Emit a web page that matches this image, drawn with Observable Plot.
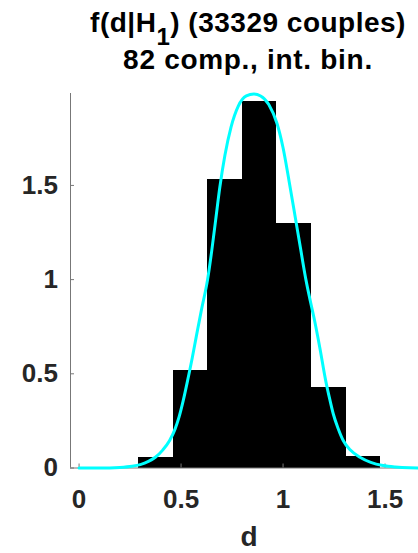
<!DOCTYPE html>
<html><head><meta charset="utf-8">
<script src="https://cdn.jsdelivr.net/npm/d3@7"></script>
<script src="https://cdn.jsdelivr.net/npm/@observablehq/plot@0.6"></script>
<style>
html,body{margin:0;padding:0;background:#fff;overflow:hidden;}
#wrap{position:relative;width:418px;height:553px;overflow:hidden;font-family:"Liberation Sans",Arial,Helvetica,sans-serif;}
#wrap svg{position:absolute;left:0;top:0;}
.t{position:absolute;left:0;width:496px;text-align:center;font-weight:bold;font-size:28px;line-height:20px;letter-spacing:0.5px;color:#000;white-space:nowrap;}
.sub{display:inline-block;font-size:24px;line-height:12px;vertical-align:-13px;}
</style></head><body>
<div id="wrap">
<div id="chart"></div>
<div class="t" style="top:13.3px">f(d|H<span class="sub">1</span>) (33329 couples)</div>
<div class="t" style="top:50.3px;letter-spacing:0.7px">82 comp., int. bin.</div>
<div class="t" style="top:527px;width:498px;color:#262626;letter-spacing:0">d</div>
</div>
<script>
const xDomain = [-0.042, 1.664];
const yDomain = [0, 1.988];
const xTicks = [0, 0.5, 1, 1.5];
const yTicks = [0, 0.5, 1, 1.5];
const binEdges = [0.292, 0.4615, 0.631, 0.8005, 0.970, 1.1395, 1.309, 1.4785];
const binHeights = [0.054, 0.515, 1.534, 1.945, 1.297, 0.429, 0.059];
const curveD = [0.00, 0.10, 0.20, 0.26, 0.30, 0.34, 0.374, 0.41, 0.444, 0.47, 0.49, 0.51, 0.532, 0.555, 0.575, 0.60, 0.63, 0.65, 0.67, 0.69, 0.715, 0.745, 0.78, 0.82, 0.857, 0.89, 0.93, 0.97, 1.00, 1.03, 1.06, 1.085, 1.112, 1.135, 1.155, 1.18, 1.209, 1.23, 1.246, 1.27, 1.295, 1.33, 1.377, 1.43, 1.49, 1.55, 1.62, 1.70];
const curveF = [0.000, 0.000, 0.003, 0.009, 0.018, 0.035, 0.057, 0.095, 0.146, 0.205, 0.27, 0.355, 0.464, 0.585, 0.70, 0.84, 1.00, 1.15, 1.32, 1.49, 1.66, 1.81, 1.92, 1.975, 1.985, 1.975, 1.93, 1.83, 1.70, 1.52, 1.33, 1.17, 1.00, 0.88, 0.78, 0.64, 0.464, 0.36, 0.288, 0.21, 0.146, 0.095, 0.057, 0.03, 0.013, 0.005, 0.001, 0.000];

const bars = binHeights.map((h, i) => ({x1: binEdges[i], x2: binEdges[i + 1], y: h}));
const curvePts = curveD.map((d, i) => ({d, f: curveF[i]}));

const chart = Plot.plot({
  width: 418, height: 553,
  marginLeft: 70, marginRight: 0, marginTop: 93, marginBottom: 85.5,
  x: {domain: xDomain},
  y: {domain: yDomain},
  style: {fontFamily: '"Liberation Sans", Arial, Helvetica, sans-serif', fontSize: "26px", fontWeight: "bold", background: "transparent", overflow: "visible"},
  marks: [
    Plot.rectY(bars, {x1: "x1", x2: "x2", y: "y", fill: "black", shapeRendering: "crispEdges"}),
    Plot.ruleY([yDomain[0]], {stroke: "#777", strokeWidth: 1}),
    Plot.ruleX([xDomain[0]], {stroke: "#777", strokeWidth: 1}),
    Plot.axisX(xTicks, {tickSize: -4, tickPadding: 25.5, stroke: "#777", fill: "#262626", label: null, tickFormat: (d) => String(d)}),
    Plot.axisY(yTicks, {tickSize: -4, tickPadding: 16.5, stroke: "#777", fill: "#262626", label: null, tickFormat: (d) => String(d)}),
    Plot.line(curvePts, {x: "d", y: "f", stroke: "#00FFFF", strokeWidth: 3, curve: "monotone-x"})
  ]
});
document.getElementById("chart").appendChild(chart);
</script>
</body></html>
